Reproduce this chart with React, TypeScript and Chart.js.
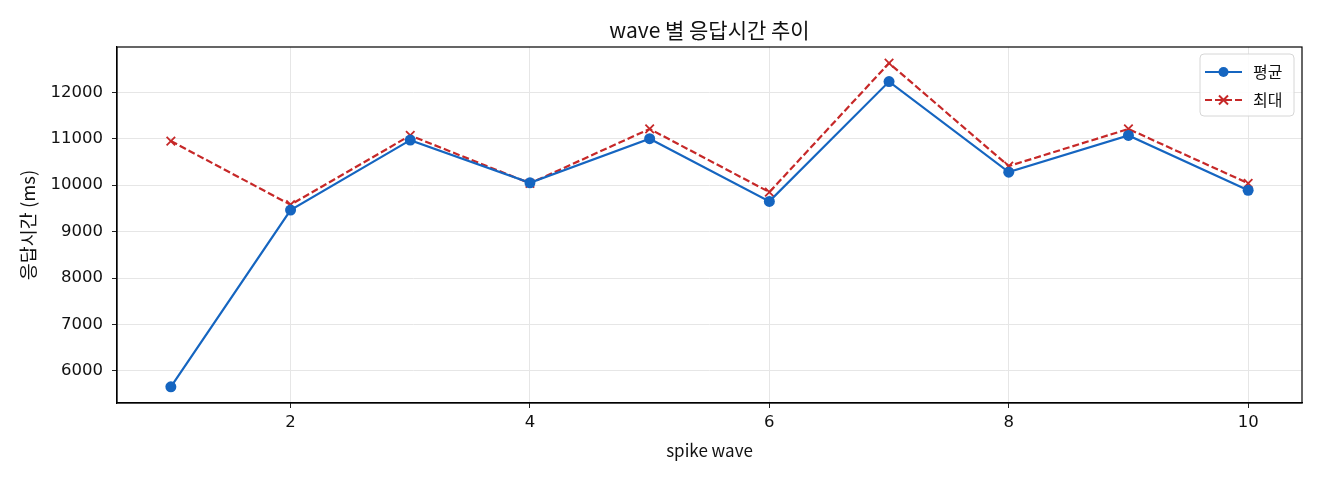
import { useEffect, useRef } from 'react'
import { Chart, registerables, Plugin } from 'chart.js'

Chart.register(...registerables)

const waves = [1, 2, 3, 4, 5, 6, 7, 8, 9, 10]
const avgMs = [5657, 9463, 10970, 10050, 11000, 9650, 12230, 10280, 11070, 9890]
const maxMs = [10950, 9578, 11070, 10040, 11210, 9850, 12627, 10410, 11210, 10040]
const xTicks = [2, 4, 6, 8, 10]
const yTicks = [6000, 7000, 8000, 9000, 10000, 11000, 12000]
const seriesNames = ['평균', '최대']

const FONT = "'Noto Sans CJK KR', 'Noto Sans', sans-serif"
const NUM_FONT = "'DejaVu Sans', 'Noto Sans CJK KR', sans-serif"
const BLUE = '#1565c0'
const RED = '#c62828'

// title, frame and legend drawn in matplotlib's manner
const decorPlugin: Plugin = {
  id: 'decor',
  afterDraw(chart) {
    const { ctx, chartArea: a } = chart
    ctx.save()
    ctx.strokeStyle = '#000'
    ctx.lineWidth = 1.2
    ctx.strokeRect(a.left, a.top, a.right - a.left, a.bottom - a.top)

    ctx.fillStyle = '#111'
    ctx.font = `21px ${FONT}`
    ctx.textAlign = 'center'
    ctx.textBaseline = 'middle'
    ctx.fillText('wave 별 응답시간 추이', (a.left + a.right) / 2, a.top - 17)

    // legend
    const bx = a.right - 102
    const by = a.top + 7
    const bw = 94
    const bh = 62
    ctx.beginPath()
    ctx.roundRect(bx, by, bw, bh, 4)
    ctx.fillStyle = 'rgba(255,255,255,0.85)'
    ctx.fill()
    ctx.strokeStyle = '#d6d6d6'
    ctx.lineWidth = 1
    ctx.stroke()

    const rows = [
      { color: BLUE, dash: [] as number[], marker: 'circle' },
      { color: RED, dash: [7, 3], marker: 'cross' },
    ]
    rows.forEach((r, i) => {
      const cy = by + 18 + i * 28
      const x0 = bx + 5
      const x1 = bx + 42
      ctx.strokeStyle = r.color
      ctx.lineWidth = 2
      ctx.setLineDash(r.dash)
      ctx.beginPath()
      ctx.moveTo(x0, cy)
      ctx.lineTo(x1, cy)
      ctx.stroke()
      ctx.setLineDash([])
      const mx = (x0 + x1) / 2
      if (r.marker === 'circle') {
        ctx.fillStyle = r.color
        ctx.beginPath()
        ctx.arc(mx, cy, 5, 0, Math.PI * 2)
        ctx.fill()
      } else {
        ctx.beginPath()
        ctx.moveTo(mx - 4.5, cy - 4.5)
        ctx.lineTo(mx + 4.5, cy + 4.5)
        ctx.moveTo(mx + 4.5, cy - 4.5)
        ctx.lineTo(mx - 4.5, cy + 4.5)
        ctx.stroke()
      }
      ctx.fillStyle = '#111'
      ctx.font = `16px ${FONT}`
      ctx.textAlign = 'left'
      ctx.fillText(seriesNames[i], bx + 53, cy)
    })
    ctx.restore()
  },
}

function LineChart() {
  const canvasRef = useRef<HTMLCanvasElement>(null)
  const chartRef = useRef<Chart | null>(null)

  useEffect(() => {
    if (!canvasRef.current) return
    if (chartRef.current) chartRef.current.destroy()

    chartRef.current = new Chart(canvasRef.current, {
      type: 'line',
      data: {
        datasets: [
          {
            label: seriesNames[0],
            data: waves.map((w, i) => ({ x: w, y: avgMs[i] })),
            borderColor: BLUE,
            backgroundColor: BLUE,
            borderWidth: 2.2,
            pointRadius: 5.5,
            pointBorderWidth: 0,
            pointStyle: 'circle',
            tension: 0,
          },
          {
            label: seriesNames[1],
            data: waves.map((w, i) => ({ x: w, y: maxMs[i] })),
            borderColor: RED,
            backgroundColor: RED,
            borderWidth: 2.2,
            borderDash: [7, 3],
            pointRadius: 6,
            pointBorderWidth: 1.8,
            pointStyle: 'crossRot',
            tension: 0,
          },
        ],
      },
      options: {
        responsive: false,
        devicePixelRatio: 1,
        animation: false,
        layout: { padding: { top: 47, right: 18, left: 0, bottom: 0 } },
        plugins: {
          legend: { display: false },
          title: { display: false },
          tooltip: { enabled: false },
        },
        scales: {
          x: {
            type: 'linear',
            min: 0.55,
            max: 10.45,
            afterFit: (s) => {
              s.height = 77
            },
            afterBuildTicks: (s) => {
              s.ticks = xTicks.map((v) => ({ value: v }))
            },
            grid: { color: '#e6e6e6', tickColor: '#222', tickLength: 5, lineWidth: 1 },
            border: { color: '#000', width: 1.2 },
            ticks: { color: '#111', font: { family: NUM_FONT, size: 16.5 }, padding: 5, maxRotation: 0 },
            title: {
              display: true,
              text: 'spike wave',
              color: '#111',
              font: { family: FONT, size: 17 },
              padding: { top: 0, bottom: 19 },
            },
          },
          y: {
            type: 'linear',
            min: 5308,
            max: 12975,
            afterFit: (s) => {
              s.width = 117
            },
            afterBuildTicks: (s) => {
              s.ticks = yTicks.map((v) => ({ value: v }))
            },
            grid: { color: '#e6e6e6', tickColor: '#222', tickLength: 5, lineWidth: 1 },
            border: { color: '#000', width: 1.2 },
            ticks: {
              color: '#111',
              font: { family: NUM_FONT, size: 16.5 },
              padding: 9,
              callback: (v) => String(v),
            },
            title: {
              display: true,
              text: '응답시간 (ms)',
              color: '#111',
              font: { family: FONT, size: 18.5 },
              padding: { top: 17, bottom: 0 },
            },
          },
        },
      },
      plugins: [decorPlugin],
    })

    return () => {
      chartRef.current?.destroy()
      chartRef.current = null
    }
  }, [])

  return <canvas ref={canvasRef} width={1320} height={480} />
}

export default function App() {
  useEffect(() => {
    document.body.style.margin = '0'
  }, [])
  return (
    <div style={{ width: 1320, height: 480, background: '#fff' }}>
      <LineChart />
    </div>
  )
}
